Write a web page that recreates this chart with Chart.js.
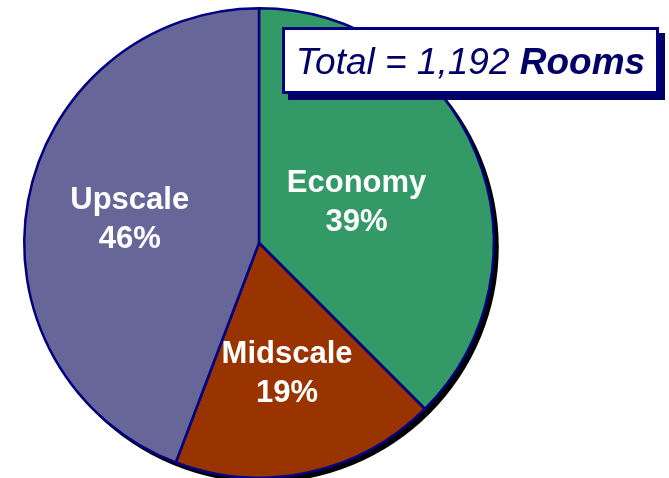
<!DOCTYPE html>
<html>
<head>
<meta charset="utf-8">
<script src="https://cdn.jsdelivr.net/npm/chart.js@4/dist/chart.umd.min.js"></script>
<style>
  html, body { margin: 0; padding: 0; background: #fff; overflow: hidden; }
  #wrap { position: relative; width: 669px; height: 478px; overflow: hidden; }
  #pie { position: absolute; left: 0; top: 0; }
  .total {
    position: absolute;
    left: 282px; top: 27px;
    width: 371px; height: 61px;
    background: #fff;
    border: 3px solid #000080;
    box-shadow: 6px 6px 0 #000066;
    font-family: "Liberation Sans", Arial, sans-serif;
    font-style: italic;
    font-size: 37px;
    color: #000066;
    line-height: 63px;
    text-align: center;
    white-space: nowrap;
  }
  .total b { font-weight: bold; }
</style>
</head>
<body>
<div id="wrap">
  <canvas id="pie" width="669" height="480"></canvas>
  <div class="total">Total = 1,192 <b>Rooms</b></div>
</div>

<script>
/* =========================
   DATOS
========================= */
const segments = ["Economy", "Midscale", "Upscale"];
const shares = [39, 19, 46];
const sliceColors = ["#339966", "#993300", "#666699"];
// how far out (fraction of radius) each label sits
const labelRadius = [0.45, 0.57, 0.56];

/* =========================
   SOMBRA DEL PASTEL
========================= */
const pieShadow = {
  id: "pieShadow",
  beforeDatasetsDraw(chart) {
    const arc = chart.getDatasetMeta(0).data[0];
    if (!arc) return;
    const ctx = chart.ctx;
    ctx.save();
    ctx.beginPath();
    ctx.arc(arc.x + 4, arc.y + 4, arc.outerRadius + 1, 0, Math.PI * 2);
    ctx.fillStyle = "#000";
    ctx.fill();
    ctx.restore();
  }
};

/* =========================
   ETIQUETAS
========================= */
const sliceLabels = {
  id: "sliceLabels",
  afterDatasetsDraw(chart) {
    const ctx = chart.ctx;
    const arcs = chart.getDatasetMeta(0).data;
    ctx.save();
    ctx.fillStyle = "#fff";
    ctx.font = "bold 31px 'Liberation Sans', Arial, sans-serif";
    ctx.textAlign = "center";
    ctx.textBaseline = "middle";
    arcs.forEach((arc, i) => {
      const mid = (arc.startAngle + arc.endAngle) / 2;
      const r = arc.outerRadius * labelRadius[i];
      const x = arc.x + Math.cos(mid) * r;
      const y = arc.y + Math.sin(mid) * r;
      ctx.fillText(segments[i], x, y - 19);
      ctx.fillText(shares[i] + "%", x, y + 20);
    });
    ctx.restore();
  }
};

/* =========================
   GRÁFICO
========================= */
new Chart(document.getElementById("pie"), {
  type: "pie",
  data: {
    labels: segments,
    datasets: [{
      data: shares,
      backgroundColor: sliceColors,
      borderColor: "#000080",
      borderWidth: 2.5
    }]
  },
  options: {
    responsive: false,
    animation: false,
    layout: { padding: { left: 23, right: 174, top: 7, bottom: 1 } },
    plugins: {
      legend: { display: false },
      tooltip: { enabled: false }
    }
  },
  plugins: [pieShadow, sliceLabels]
});
</script>
</body>
</html>
